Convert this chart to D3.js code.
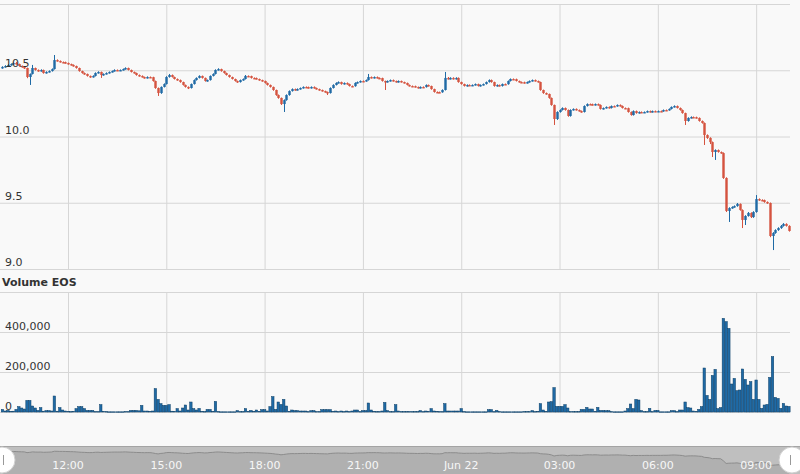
<!DOCTYPE html>
<html><head><meta charset="utf-8">
<script src="https://cdn.jsdelivr.net/npm/d3@7/dist/d3.min.js"></script>
<style>
html,body{margin:0;padding:0;background:#f9f9f9;}
svg{display:block;font-family:"DejaVu Sans",Verdana,sans-serif;}
</style></head>
<body>
<script>
// ---- DATA ----
const startTimeUTC = Date.UTC(2018, 5, 21, 10, 0, 0); // first candle
const intervalMinutes = 5;
const firstOpen = 10.518;
const closes = [
10.525,10.532,10.540,10.547,10.555,10.547,10.532,10.525,10.517,10.449,
10.472,10.517,10.502,10.494,10.502,10.479,10.487,10.494,10.509,10.577,
10.570,10.562,10.561,10.555,10.547,10.540,10.532,10.517,10.494,10.479,
10.472,10.457,10.449,10.457,10.479,10.487,10.464,10.472,10.479,10.487,
10.494,10.502,10.501,10.502,10.509,10.517,10.502,10.487,10.479,10.464,
10.457,10.449,10.442,10.449,10.448,10.419,10.366,10.328,10.374,10.396,
10.449,10.464,10.449,10.434,10.426,10.411,10.389,10.374,10.366,10.396,
10.426,10.442,10.457,10.442,10.419,10.426,10.457,10.472,10.502,10.509,
10.494,10.479,10.464,10.449,10.434,10.419,10.411,10.426,10.434,10.457,
10.456,10.442,10.441,10.434,10.426,10.419,10.404,10.389,10.374,10.351,
10.313,10.291,10.245,10.275,10.313,10.343,10.358,10.351,10.358,10.366,
10.374,10.373,10.366,10.374,10.366,10.358,10.351,10.343,10.336,10.328,
10.366,10.389,10.404,10.411,10.396,10.404,10.396,10.381,10.380,10.404,
10.411,10.419,10.418,10.426,10.449,10.442,10.449,10.442,10.441,10.419,
10.411,10.419,10.426,10.419,10.411,10.419,10.411,10.404,10.389,10.381,
10.380,10.374,10.366,10.374,10.373,10.389,10.381,10.358,10.336,10.335,
10.334,10.351,10.442,10.434,10.442,10.434,10.442,10.411,10.396,10.381,
10.389,10.388,10.389,10.396,10.381,10.389,10.396,10.411,10.426,10.411,
10.381,10.389,10.381,10.396,10.395,10.419,10.434,10.433,10.419,10.411,
10.410,10.404,10.411,10.419,10.426,10.419,10.411,10.351,10.328,10.321,
10.291,10.238,10.132,10.185,10.200,10.215,10.200,10.155,10.200,10.208,
10.200,10.192,10.185,10.230,10.245,10.244,10.238,10.245,10.238,10.208,
10.215,10.223,10.215,10.230,10.229,10.238,10.230,10.215,10.214,10.185,
10.162,10.192,10.177,10.185,10.184,10.185,10.192,10.185,10.192,10.191,
10.192,10.191,10.200,10.199,10.208,10.223,10.230,10.215,10.200,10.177,
10.117,10.140,10.147,10.146,10.140,10.117,10.102,10.011,9.989,9.958,
9.883,9.898,9.883,9.875,9.687,9.438,9.460,9.468,9.475,9.491,
9.445,9.370,9.400,9.423,9.392,9.430,9.528,9.521,9.520,9.506,
9.498,9.249,9.272,9.294,9.309,9.325,9.340,9.325,9.287
];
const highs = [
10.530,10.538,10.545,10.552,10.560,10.562,10.550,10.536,10.530,10.520,
10.476,10.540,10.520,10.506,10.507,10.505,10.492,10.499,10.514,10.615,
10.582,10.574,10.566,10.565,10.558,10.550,10.544,10.535,10.520,10.497,
10.483,10.475,10.460,10.462,10.484,10.492,10.490,10.476,10.484,10.491,
10.498,10.507,10.506,10.506,10.513,10.522,10.520,10.505,10.490,10.482,
10.468,10.461,10.452,10.454,10.453,10.451,10.422,10.370,10.378,10.401,
10.455,10.472,10.468,10.452,10.438,10.430,10.414,10.392,10.378,10.400,
10.431,10.446,10.462,10.460,10.445,10.430,10.461,10.477,10.507,10.515,
10.512,10.497,10.482,10.467,10.452,10.437,10.422,10.430,10.438,10.464,
10.461,10.459,10.446,10.445,10.437,10.429,10.422,10.407,10.392,10.377,
10.354,10.317,10.294,10.280,10.318,10.348,10.363,10.362,10.363,10.370,
10.378,10.378,10.377,10.378,10.378,10.369,10.361,10.354,10.346,10.339,
10.371,10.394,10.409,10.416,10.414,10.408,10.408,10.399,10.385,10.409,
10.415,10.423,10.423,10.430,10.472,10.453,10.453,10.453,10.446,10.444,
10.422,10.423,10.430,10.430,10.422,10.423,10.422,10.414,10.407,10.392,
10.385,10.384,10.377,10.378,10.378,10.393,10.392,10.384,10.361,10.340,
10.339,10.356,10.487,10.449,10.447,10.447,10.447,10.446,10.414,10.399,
10.393,10.393,10.393,10.400,10.399,10.393,10.400,10.415,10.431,10.430,
10.414,10.393,10.392,10.400,10.400,10.423,10.438,10.438,10.437,10.422,
10.415,10.414,10.415,10.423,10.430,10.430,10.422,10.414,10.354,10.332,
10.324,10.294,10.241,10.190,10.205,10.220,10.219,10.204,10.205,10.212,
10.212,10.204,10.196,10.235,10.250,10.249,10.248,10.249,10.249,10.242,
10.219,10.227,10.227,10.234,10.234,10.242,10.242,10.234,10.219,10.218,
10.189,10.197,10.196,10.189,10.189,10.189,10.196,10.196,10.196,10.196,
10.196,10.196,10.204,10.204,10.212,10.227,10.235,10.234,10.219,10.204,
10.180,10.145,10.152,10.151,10.150,10.144,10.121,10.106,10.016,9.994,
9.962,9.903,9.902,9.887,9.880,9.692,9.466,9.473,9.480,9.498,
9.495,9.450,9.406,9.430,9.428,9.436,9.558,9.533,9.526,9.524,
9.510,9.502,9.278,9.300,9.315,9.332,9.346,9.345,9.330
];
const lows = [
10.512,10.520,10.528,10.535,10.540,10.543,10.527,10.520,10.510,10.440,
10.389,10.468,10.497,10.489,10.490,10.474,10.475,10.483,10.490,10.505,
10.565,10.558,10.556,10.550,10.542,10.535,10.527,10.512,10.489,10.474,
10.466,10.452,10.443,10.445,10.453,10.475,10.442,10.459,10.468,10.475,
10.483,10.490,10.497,10.497,10.498,10.505,10.498,10.483,10.475,10.459,
10.452,10.445,10.437,10.438,10.443,10.414,10.360,10.306,10.322,10.370,
10.392,10.444,10.445,10.430,10.421,10.406,10.384,10.369,10.358,10.362,
10.392,10.422,10.438,10.437,10.414,10.414,10.422,10.453,10.468,10.498,
10.489,10.474,10.460,10.444,10.430,10.414,10.405,10.407,10.421,10.430,
10.451,10.437,10.436,10.430,10.421,10.414,10.399,10.384,10.369,10.345,
10.307,10.285,10.238,10.185,10.270,10.308,10.339,10.346,10.347,10.354,
10.362,10.369,10.362,10.362,10.361,10.354,10.346,10.339,10.331,10.313,
10.324,10.362,10.385,10.400,10.391,10.392,10.391,10.377,10.375,10.376,
10.400,10.407,10.414,10.414,10.422,10.438,10.438,10.438,10.436,10.414,
10.351,10.407,10.415,10.415,10.407,10.407,10.407,10.400,10.385,10.377,
10.375,10.370,10.362,10.362,10.369,10.369,10.377,10.353,10.331,10.330,
10.329,10.330,10.347,10.430,10.430,10.430,10.430,10.406,10.391,10.377,
10.377,10.384,10.384,10.385,10.377,10.377,10.385,10.392,10.407,10.406,
10.376,10.377,10.377,10.377,10.391,10.391,10.415,10.429,10.415,10.407,
10.406,10.400,10.400,10.407,10.415,10.415,10.407,10.345,10.322,10.316,
10.285,10.232,10.087,10.125,10.180,10.196,10.195,10.149,10.150,10.196,
10.196,10.188,10.180,10.181,10.226,10.240,10.234,10.234,10.234,10.203,
10.204,10.211,10.211,10.211,10.225,10.225,10.226,10.211,10.210,10.180,
10.157,10.158,10.172,10.173,10.180,10.180,10.181,10.181,10.181,10.187,
10.187,10.187,10.187,10.195,10.195,10.204,10.219,10.211,10.195,10.172,
10.087,10.112,10.136,10.142,10.136,10.112,10.097,9.936,9.982,9.943,
9.845,9.823,9.878,9.870,9.680,9.430,9.355,9.455,9.463,9.470,
9.440,9.309,9.332,9.395,9.385,9.386,9.425,9.515,9.514,9.500,
9.492,9.240,9.143,9.266,9.288,9.303,9.320,9.320,9.282
];
const volumeThousands = [
13,5,8,3,4,13,27,20,15,58,
58,30,20,8,22,4,7,7,5,80,
4,22,10,5,3,2,3,17,27,27,
17,8,8,8,2,2,37,3,2,1,
1,1,1,1,1,2,2,8,8,8,
6,33,5,5,3,5,117,63,42,33,
33,37,4,3,17,5,20,35,10,50,
17,10,18,3,2,13,13,3,53,2,
1,1,1,1,1,1,7,2,2,17,
3,8,3,10,3,12,12,5,27,77,
13,50,38,63,30,3,10,7,7,5,
5,5,2,7,7,2,2,12,12,12,
12,3,5,2,5,2,5,2,5,10,
10,2,7,7,45,10,3,2,2,5,
48,7,2,2,37,5,2,2,2,2,
2,2,2,7,2,5,3,17,5,3,
2,2,42,5,5,5,5,5,17,2,
1,1,1,1,1,1,1,1,12,12,
2,8,2,1,1,1,1,1,1,1,
1,2,2,2,7,2,3,42,10,3,
50,52,122,28,28,28,37,20,2,2,
2,2,13,13,23,15,15,3,23,8,
8,7,7,2,1,1,1,1,5,17,
40,17,63,60,7,2,2,18,2,8,
8,1,1,1,1,7,7,2,10,10,
50,22,20,5,3,13,27,220,83,63,
183,213,17,22,468,452,418,140,168,107,
110,215,163,135,152,63,160,63,18,35,
38,173,277,73,68,18,43,30,28
];
const priceTicks = [9.0, 9.5, 10.0, 10.5, 11.0];
const priceTickLabels = ["9.0", "9.5", "10.0", "10.5"];
const volumeTicks = [0, 200000, 400000, 600000];
const volumeTickLabels = ["0", "200,000", "400,000"];
const volumeTitle = "Volume EOS";

// ---- BUILD ----
const candles = closes.map((c, i) => ({
  t: new Date(startTimeUTC + i * intervalMinutes * 60000),
  o: i === 0 ? firstOpen : closes[i - 1],
  h: highs[i], l: lows[i], c: c,
  v: volumeThousands[i] * 1000
}));

const W = 800, H = 474;
const plotL = 0, plotR = 790;
const svg = d3.select("body").append("svg").attr("width", W).attr("height", H);
svg.append("rect").attr("width", W).attr("height", H).attr("fill", "#f9f9f9");

const x = d3.scaleUtc()
  .domain([new Date(startTimeUTC - 4.5 * 60000), new Date(startTimeUTC + (24 * 60 + 2) * 60000)])
  .range([plotL, plotR]);
const yP = d3.scaleLinear().domain([9, 11]).range([269, 4]);
const yV = d3.scaleLinear().domain([0, 600000]).range([412, 292]);

const timeTicks = x.ticks(d3.utcHour.every(3)).filter(t => x(t) > 20 && x(t) < plotR);
const gridColor = "#d6d6d6";

// price grid
const gP = svg.append("g");
gP.append("g").call(d3.axisRight(yP).tickValues(priceTicks).tickSize(plotR - plotL).tickFormat(""))
  .call(g => { g.select(".domain").remove(); g.selectAll("line").attr("stroke", gridColor); });
gP.append("g").attr("transform", "translate(0,4)")
  .call(d3.axisBottom(x).tickValues(timeTicks).tickSize(265).tickFormat(""))
  .call(g => { g.select(".domain").remove(); g.selectAll("line").attr("stroke", gridColor); });

// volume grid
const gV = svg.append("g");
gV.append("g").call(d3.axisRight(yV).tickValues(volumeTicks).tickSize(plotR - plotL).tickFormat(""))
  .call(g => { g.select(".domain").remove(); g.selectAll("line").attr("stroke", gridColor); });
gV.append("g").attr("transform", "translate(0,292)")
  .call(d3.axisBottom(x).tickValues(timeTicks).tickSize(120).tickFormat(""))
  .call(g => { g.select(".domain").remove(); g.selectAll("line").attr("stroke", gridColor); });

const upColor = "#1f6aa5", downColor = "#d5533f";

// volume bars
const step = x(new Date(startTimeUTC + intervalMinutes * 60000)) - x(new Date(startTimeUTC));
const barW = step * 0.9;
svg.append("g").selectAll("rect").data(candles).join("rect")
  .attr("x", d => x(d.t) - barW / 2)
  .attr("y", d => yV(d.v))
  .attr("width", barW)
  .attr("height", d => Math.max(0.5, yV(0) - yV(d.v)))
  .attr("fill", upColor)
  .attr("stroke", "#0c3f66")
  .attr("stroke-width", 0.5);

// candles
const gc = svg.append("g");
const bodyW = step * 0.88;
gc.selectAll("line").data(candles).join("line")
  .attr("x1", d => Math.round(x(d.t)) + 0.5).attr("x2", d => Math.round(x(d.t)) + 0.5)
  .attr("y1", d => yP(d.h)).attr("y2", d => yP(d.l))
  .attr("stroke", d => d.c >= d.o ? upColor : downColor)
  .attr("stroke-width", 1);
gc.selectAll("rect").data(candles).join("rect")
  .attr("x", d => Math.round(x(d.t)) + 0.5 - bodyW / 2)
  .attr("y", d => yP(Math.max(d.o, d.c)))
  .attr("width", bodyW)
  .attr("height", d => Math.max(1.5, Math.abs(yP(d.o) - yP(d.c))))
  .attr("fill", d => d.c >= d.o ? upColor : downColor);

// labels
const labelFont = 11;
svg.append("g").selectAll("text").data(priceTickLabels).join("text")
  .attr("x", 5).attr("y", (d, i) => yP(priceTicks[i]) - 3)
  .attr("font-size", labelFont).attr("fill", "#333").text(d => d);
svg.append("g").selectAll("text").data(volumeTickLabels).join("text")
  .attr("x", 5).attr("y", (d, i) => yV(volumeTicks[i]) - 2)
  .attr("font-size", labelFont).attr("fill", "#333").text(d => d);
svg.append("text").attr("x", 2).attr("y", 286).attr("font-size", 11)
  .attr("font-weight", "bold").attr("fill", "#333").text(volumeTitle);

// navigator
const navTop = 446, navBot = 474;
svg.append("rect").attr("x", 0).attr("y", navTop).attr("width", W).attr("height", navBot - navTop)
  .attr("fill", "#bfbfbf");
const yN = d3.scaleLinear().domain([9.2, 10.6]).range([466, 451]);
svg.append("path").datum(candles)
  .attr("d", d3.area().x(d => x(d.t)).y0(navBot).y1(d => yN(d.c)))
  .attr("fill", "#b0b0b0");
svg.append("path").datum(candles)
  .attr("d", d3.line().x(d => x(d.t)).y(d => yN(d.c)))
  .attr("fill", "none").attr("stroke", "#8c8c8c").attr("stroke-width", 1);
svg.append("line").attr("x1", 0).attr("x2", W).attr("y1", navTop + 0.5).attr("y2", navTop + 0.5)
  .attr("stroke", "#a4a4a4");
const navFmt = t => (t.getUTCHours() === 0 ? d3.utcFormat("%b %d")(t) : d3.utcFormat("%H:%M")(t));
svg.append("g").selectAll("text").data(timeTicks).join("text")
  .attr("x", d => x(d)).attr("y", 469).attr("text-anchor", "middle")
  .attr("font-size", 11).attr("fill", "#f7f7f7").text(navFmt);
// handles
[[2, 3], [792, 790]].forEach(([cx, lx]) => {
  svg.append("circle").attr("cx", cx).attr("cy", 460).attr("r", 13)
    .attr("fill", "#ffffff").attr("stroke", "#d0d0d0");
  svg.append("line").attr("x1", lx + 0.5).attr("x2", lx + 0.5).attr("y1", 455).attr("y2", 465)
    .attr("stroke", "#999");
});
</script>
</body></html>
